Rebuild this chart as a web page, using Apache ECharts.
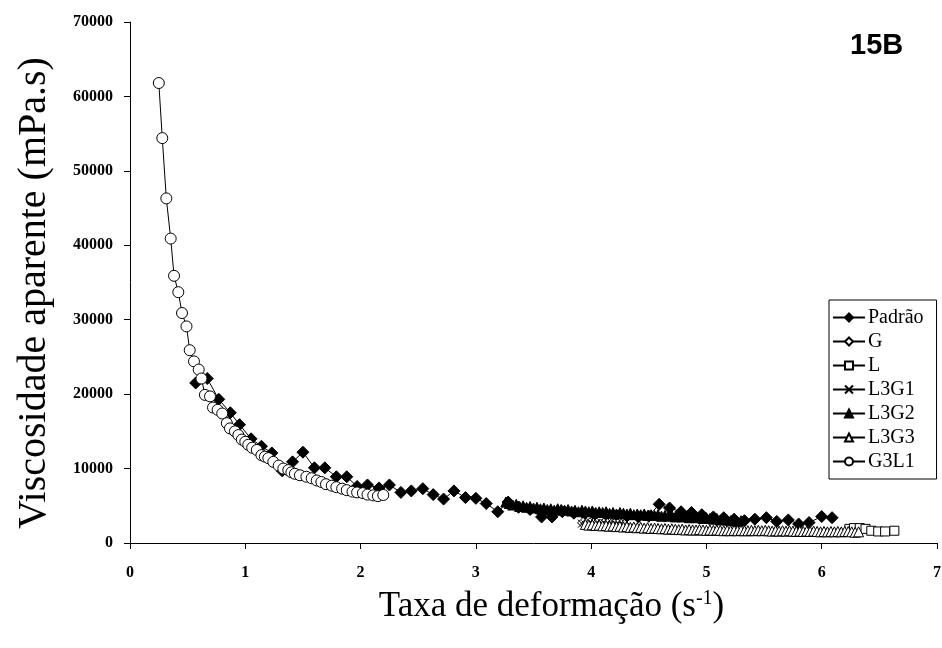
<!DOCTYPE html>
<html>
<head>
<meta charset="utf-8">
<script src="https://cdn.jsdelivr.net/npm/echarts@6/dist/echarts.min.js"></script>
<style>
html,body{margin:0;padding:0;background:#fff;}
#chart{width:942px;height:648px;}
</style>
</head>
<body>
<div id="chart"></div>
<script>
// ---- data ----
const xTicks = [0, 1, 2, 3, 4, 5, 6, 7];
const yTicks = [0, 10000, 20000, 30000, 40000, 50000, 60000, 70000];

const padraoX = [0.57,0.67,0.77,0.87,0.95,1.05,1.14,1.23,1.32,1.41,1.50,1.60,1.69,1.79,1.88,1.97,2.06,2.16,2.25,2.35,2.44,2.54,2.63,2.72,2.81,2.91,3.00,3.09,3.19,3.28,3.37,3.47,3.57,3.66,3.75,3.85,3.94,4.03,4.13,4.22,4.31,4.41,4.50,4.59,4.68,4.78,4.87,4.96,5.06,5.15,5.24,5.33,5.42,5.52,5.61,5.71,5.80,5.89,6.00,6.09];
const padraoY = [21500,22100,19300,17500,15900,14000,13000,12100,9700,10900,12200,10100,10100,8900,8900,7600,7800,7400,7800,6800,7000,7300,6500,5900,7000,6100,6000,5300,4200,5500,4800,4500,3500,3500,4200,4000,3900,3800,3700,3700,3600,3500,3600,5200,4700,4200,4100,3800,3500,3400,3200,3000,3200,3400,2900,3100,2550,2750,3550,3400];

const gX = [3.93,3.96,3.99,4.02,4.05,4.08,4.11,4.14,4.17,4.20,4.23,4.26,4.29];
const gY = [2700,2600,2650,2550,2600,2500,2600,2550,2450,2550,2500,2450,2400];

const lX = [6.24,6.28,6.33,6.38,6.43,6.49,6.55,6.63];
const lY = [1900,2000,2000,1900,1650,1550,1550,1650];

const l3g1X = [3.92,3.95,3.98,4.01,4.04,4.07,4.13,4.16,4.19,4.22,4.25,4.28];
const l3g1Y = [2600,2500,2550,2450,2500,2400,2500,2450,2400,2450,2350,2400];

const l3g2X = [3.26,3.29,3.32,3.35,3.38,3.41,3.44,3.47,3.50,3.53,3.56,3.59,3.62,3.65,3.68,3.71,3.74,3.77,3.80,3.83,3.86,3.89,3.92,3.95,3.98,4.01,4.04,4.07,4.10,4.13,4.16,4.19,4.22,4.25,4.28,4.31,4.34,4.37,4.40,4.43,4.46,4.49,4.52,4.55,4.58,4.61,4.64,4.67,4.70,4.73,4.76,4.79,4.82,4.85,4.88,4.91,4.94,4.97,5.00,5.03,5.06,5.09,5.12,5.15,5.18,5.21,5.24,5.27,5.30];
const l3g2Y = [5500,5300,5100,5200,4900,5000,4800,4900,4700,4800,4600,4700,4500,4600,4400,4600,4500,4400,4500,4300,4400,4200,4400,4300,4200,4300,4100,4200,4100,4200,4000,4100,3900,4100,4000,3900,4000,3800,3900,3800,3900,3700,3800,3700,3800,3600,3700,3600,3700,3500,3600,3500,3600,3400,3500,3400,3500,3300,3400,3300,3200,3300,3100,3200,3100,3000,3100,2900,3000];

const l3g3X = [3.95,3.98,4.01,4.04,4.07,4.10,4.13,4.16,4.19,4.22,4.25,4.28,4.31,4.34,4.37,4.40,4.43,4.46,4.49,4.52,4.55,4.58,4.61,4.64,4.67,4.70,4.73,4.76,4.79,4.82,4.85,4.88,4.91,4.94,4.97,5.00,5.03,5.06,5.09,5.12,5.15,5.18,5.21,5.24,5.27,5.30,5.33,5.36,5.39,5.42,5.45,5.48,5.51,5.54,5.57,5.60,5.63,5.66,5.69,5.72,5.75,5.78,5.81,5.84,5.87,5.90,5.93,5.96,5.99,6.02,6.05,6.08,6.11,6.14,6.17,6.20,6.23,6.26,6.29,6.32];
const l3g3Y = [2500,2400,2450,2350,2400,2300,2350,2250,2300,2200,2250,2150,2200,2100,2150,2050,2100,2000,2050,1950,2000,1950,1900,1950,1850,1900,1850,1800,1850,1750,1800,1750,1750,1800,1750,1700,1750,1700,1750,1700,1650,1700,1650,1700,1650,1700,1650,1650,1700,1650,1700,1650,1700,1650,1600,1650,1600,1650,1600,1650,1600,1550,1600,1550,1600,1550,1600,1550,1500,1550,1500,1550,1500,1550,1500,1550,1550,1500,1450,1500];

const g3l1X = [0.25,0.28,0.315,0.353,0.382,0.419,0.451,0.49,0.518,0.555,0.596,0.62,0.65,0.694,0.72,0.76,0.80,0.84,0.867,0.91,0.94,0.97,1.00,1.026,1.06,1.10,1.14,1.17,1.20,1.243,1.29,1.33,1.373,1.40,1.43,1.474,1.53,1.576,1.62,1.66,1.70,1.75,1.79,1.84,1.88,1.93,1.97,2.02,2.06,2.11,2.15,2.197];
const g3l1Y = [61800,54400,46300,40900,35900,33700,30900,29100,25900,24400,23300,22100,19900,19700,18200,17900,17400,16100,15400,15000,14500,13900,13600,13200,12800,12500,11800,11600,11400,10900,10400,10000,9800,9500,9300,9100,8900,8700,8400,8200,7900,7700,7500,7300,7100,6900,6800,6700,6500,6400,6300,6450];

const seriesNames = ['Padrão', 'G', 'L', 'L3G1', 'L3G2', 'L3G3', 'G3L1'];
const xTitle = 'Taxa de deformação (s';
const yTitle = 'Viscosidade aparente (mPa.s)';
const panelTag = '15B';

// ---- chart ----
const serif = '"Liberation Serif", "Times New Roman", serif';
function pairs(xs, ys){ return xs.map((x, i) => [x, ys[i]]); }
const crossPath = 'path://M0,0L10,10M10,0L0,10';

function mkSeries(name, xs, ys, symbol, fill, size){
  return {
    name: name,
    type: 'line',
    data: pairs(xs, ys),
    symbol: symbol,
    symbolSize: size,
    showAllSymbol: true,
    lineStyle: { color: '#000', width: 1 },
    itemStyle: { color: fill, borderColor: '#000', borderWidth: 1 },
    emphasis: { disabled: true },
    animation: false
  };
}

const chart = echarts.init(document.getElementById('chart'), null, { renderer: 'canvas' });
chart.setOption({
  backgroundColor: '#fff',
  animation: false,
  grid: { left: 130, right: 5, top: 22, bottom: 105, containLabel: false, outerBoundsMode: 'none' },
  xAxis: {
    type: 'value', min: xTicks[0], max: xTicks[xTicks.length - 1], interval: 1,
    name: '{a|' + xTitle + '}{b|-1}{a|)}',
    nameLocation: 'middle', nameGap: 46,
    nameTextStyle: {
      padding: [0, 0, 0, 36],
      rich: {
        a: { fontFamily: serif, fontSize: 35, color: '#000' },
        b: { fontFamily: serif, fontSize: 20, color: '#000', verticalAlign: 'top' }
      }
    },
    axisLine: { lineStyle: { color: '#000', width: 1 } },
    axisTick: { inside: false, length: 6, lineStyle: { color: '#000' } },
    axisLabel: { margin: 22, fontFamily: serif, fontSize: 16, fontWeight: 'bold', color: '#000' },
    splitLine: { show: false }
  },
  yAxis: {
    type: 'value', min: yTicks[0], max: yTicks[yTicks.length - 1], interval: 10000,
    axisLine: { show: true, lineStyle: { color: '#000', width: 1 } },
    axisTick: { show: true, inside: false, length: 6, lineStyle: { color: '#000' } },
    axisLabel: { margin: 17, fontFamily: serif, fontSize: 16, fontWeight: 'bold', color: '#000',
                 formatter: v => String(v) },
    splitLine: { show: false }
  },
  legend: {
    orient: 'vertical',
    left: 829, top: 300,
    padding: [7, 13, 7, 3],
    itemGap: 3,
    itemWidth: 32, itemHeight: 10,
    borderColor: '#000', borderWidth: 1,
    backgroundColor: '#fff',
    textStyle: { fontFamily: serif, fontSize: 20, color: '#000', lineHeight: 21, padding: [0, 0, 0, -2] },
    data: seriesNames
  },
  graphic: [{
    type: 'text', left: 850, top: 31,
    style: { text: panelTag, font: 'bold 29px "Liberation Sans", Arial, sans-serif', fill: '#000' }
  }, {
    type: 'text', x: 34, y: 293, rotation: Math.PI / 2,
    style: { text: yTitle, font: '40px ' + serif, fill: '#000', align: 'center', verticalAlign: 'middle' }
  }],
  series: [
    mkSeries(seriesNames[0], padraoX, padraoY, 'diamond', '#000', 12),
    mkSeries(seriesNames[1], gX, gY, 'diamond', '#fff', 11),
    mkSeries(seriesNames[2], lX, lY, 'rect', '#fff', 9),
    mkSeries(seriesNames[3], l3g1X, l3g1Y, crossPath, 'none', 8),
    mkSeries(seriesNames[4], l3g2X, l3g2Y, 'triangle', '#000', 10),
    mkSeries(seriesNames[5], l3g3X, l3g3Y, 'triangle', '#fff', 10),
    mkSeries(seriesNames[6], g3l1X, g3l1Y, 'circle', '#fff', 11)
  ]
});
</script>
</body>
</html>
